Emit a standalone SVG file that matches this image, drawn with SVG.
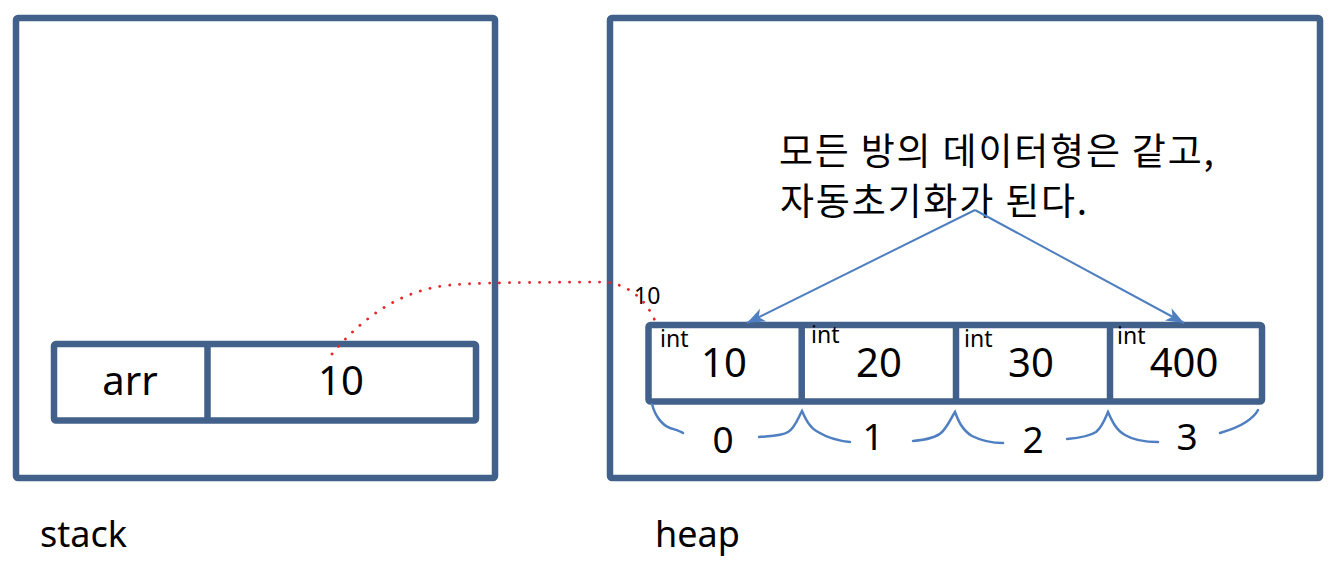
<svg xmlns="http://www.w3.org/2000/svg" width="1340" height="562" viewBox="0 0 1340 562">
<style>
.box{fill:#fff;stroke:#41608A;stroke-width:6.5;stroke-linejoin:round}
.div{stroke:#41608A;stroke-width:6.5}
.t{font-family:"Noto Sans","Liberation Sans",sans-serif;fill:#000}
.big{font-size:40px;text-anchor:middle}
.idx{font-size:37px;text-anchor:middle}
.small{font-size:23px}
.lbl{font-size:36px}
.ko{font-family:"Noto Sans CJK KR","Noto Sans",sans-serif;font-size:37px;letter-spacing:1.8px;fill:#000}
.brace{fill:none;stroke:#4F7FC0;stroke-width:2.5;stroke-linecap:round}
.arrow{fill:none;stroke:#4F7FC0;stroke-width:2;marker-end:url(#ah)}
.dot{fill:none;stroke:#E8262A;stroke-width:2.8;stroke-linecap:round;stroke-dasharray:0.1 9.9}
</style>
<defs>
<marker id="ah" markerUnits="userSpaceOnUse" markerWidth="20" markerHeight="16" refX="18" refY="7" orient="auto">
<path d="M0,0 L18,7 L0,14 L5,7 z" fill="#4F7FC0"/>
</marker>
</defs>
<g id="stack">
<rect class="box" x="16" y="18" width="479" height="460" rx="2"/>
<text class="t lbl" x="40" y="547">stack</text>
</g>
<g id="heap">
<rect class="box" x="610" y="18" width="710" height="460" rx="2"/>
<text class="t lbl" x="655" y="547">heap</text>
</g>
<g id="stack-var">
<rect class="box" x="54" y="344" width="422" height="76.5" rx="2"/>
<line class="div" x1="207.5" y1="344" x2="207.5" y2="420.5"/>
<text class="t big" x="130" y="395">arr</text>
<text class="t big" x="341" y="395">10</text>
</g>
<g id="array">
<rect class="box" x="648.5" y="325" width="613.5" height="76.5" rx="2"/>
<line class="div" x1="801.7" y1="325" x2="801.7" y2="401.5"/>
<line class="div" x1="956" y1="325" x2="956" y2="401.5"/>
<line class="div" x1="1110" y1="325" x2="1110" y2="401.5"/>
<text class="t small" x="660" y="347">int</text>
<text class="t small" x="811" y="343">int</text>
<text class="t small" x="964" y="347">int</text>
<text class="t small" x="1117" y="344">int</text>
<text class="t big" x="724" y="377">10</text>
<text class="t big" x="879" y="377">20</text>
<text class="t big" x="1031" y="377">30</text>
<text class="t big" x="1184" y="377">400</text>
<text class="t small" x="634" y="304">10</text>
</g>
<g id="indices">
<path class="brace" d="M652,404 C655,416 662,425 670,428 C676,430 680,431 683,433"/>
<path class="brace" d="M759,437 C770,436 782,436 788,432 C795,428 798,418 802,411 C806,420 810,428 818,432 C828,438 840,441 850,442"/>
<path class="brace" d="M913,441 C925,440 937,437 942,432 C948,426 951,418 955,412 C958,420 962,430 972,436 C982,441 993,443 1003,443"/>
<path class="brace" d="M1067,439 C1078,438 1090,436 1096,432 C1102,427 1105,419 1108,412 C1112,421 1116,430 1125,435 C1135,441 1147,442 1158,442"/>
<path class="brace" d="M1220,433 C1230,430 1240,426 1246,422 C1252,418 1256,414 1258,410"/>
<text class="t idx" x="723" y="453">0</text>
<text class="t idx" x="873" y="450">1</text>
<text class="t idx" x="1033" y="453">2</text>
<text class="t idx" x="1187" y="450">3</text>
</g>
<g id="note">
<text class="ko" x="779" y="165">모든 방의 데이터형은 같고,</text>
<text class="ko" x="780" y="215">자동초기화가 된다.</text>
</g>
<g id="connectors">
<path class="dot" d="M332,354 C362,318 400,290 450,285 C480,282.5 520,282.5 605,282 C628,284 648,300 657,326"/>
<line class="arrow" x1="975" y1="210" x2="747" y2="323"/>
<line class="arrow" x1="975" y1="210" x2="1184" y2="323"/>
</g>
</svg>
